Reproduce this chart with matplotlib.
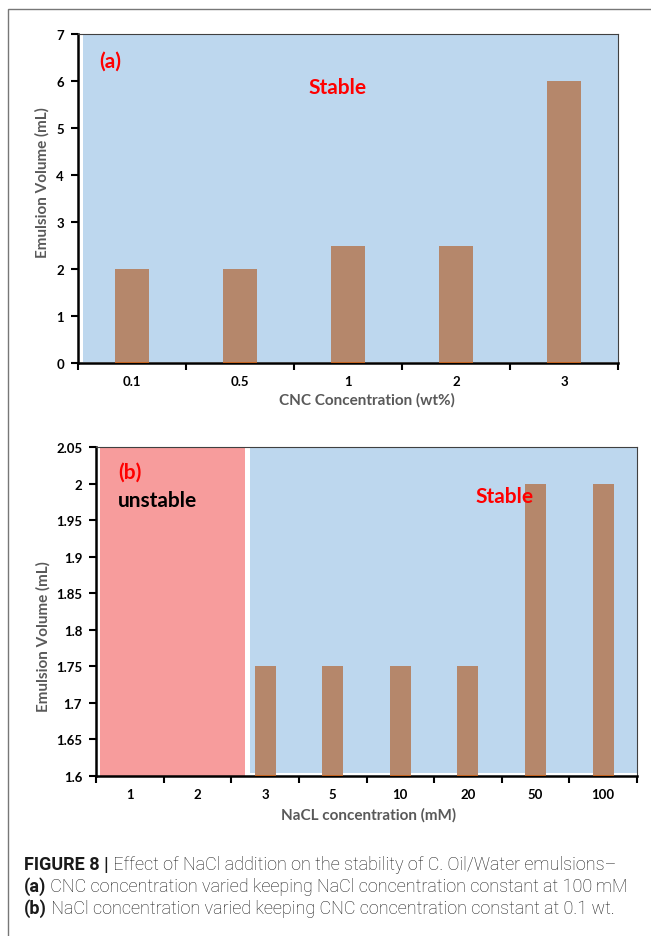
import matplotlib
matplotlib.use("Agg")
import matplotlib.pyplot as plt
from matplotlib.patches import Rectangle
import numpy as np

## data, panel (a)
cnc_conc = ["0.1", "0.5", "1", "2", "3"]
cnc_volume = [2, 2, 2.5, 2.5, 6]

## data, panel (b)
nacl_conc = ["1", "2", "3", "5", "10", "20", "50", "100"]
nacl_volume = [np.nan, np.nan, 1.75, 1.75, 1.75, 1.75, 2.0, 2.0]

y_ticks_a = [0, 1, 2, 3, 4, 5, 6, 7]
y_ticks_b = [1.6, 1.65, 1.7, 1.75, 1.8, 1.85, 1.9, 1.95, 2.0, 2.05]
y_ticklabels_b = ["1.6", "1.65", "1.7", "1.75", "1.8", "1.85", "1.9", "1.95", "2", "2.05"]

BAR = "#B5876B"
BLUE = "#BDD7EE"
PINK = "#F79C9C"
RED = "#FF0000"
GRAY = "#595959"
FONT = "Lato"

W, H = 651, 937
fig = plt.figure(figsize=(W / 100, H / 100), dpi=100)
plt.rcParams["font.family"] = FONT


def px_axes(x0, y0, x1, y1):
    # axes box given in pixels from top-left
    return fig.add_axes([x0 / W, 1 - y1 / H, (x1 - x0) / W, (y1 - y0) / H])


def style_axes(ax, labels, yticks, yticklabels):
    n = len(labels)
    ax.set_xlim(-0.5, n - 0.5)
    ax.set_xticks(np.arange(n + 1) - 0.5)
    ax.set_xticklabels([])
    ax.set_xticks(np.arange(n), minor=True)
    ax.set_xticklabels(labels, minor=True, fontsize=9.5, fontweight="bold")
    ax.tick_params(axis="x", which="major", direction="out", length=5, width=1.5)
    ax.tick_params(axis="x", which="minor", length=0, pad=9)
    ax.set_yticks(yticks)
    ax.set_yticklabels(yticklabels, fontsize=9.5, fontweight="bold")
    ax.tick_params(axis="y", direction="out", length=5, width=1.5, pad=5)
    for s in ["left", "bottom"]:
        ax.spines[s].set_linewidth(1.8)
        ax.spines[s].set_color("black")
    for s in ["top", "right"]:
        ax.spines[s].set_linewidth(0.8)
        ax.spines[s].set_color("#404040")
    ax.set_facecolor("white")


def draw_bars(ax, vals, width=0.31):
    x = np.arange(len(vals))
    ax.bar(x, vals, width=width, color=BAR, zorder=2)
    ok = ~np.isnan(np.array(vals, dtype=float))
    ax.hlines([ax.get_ylim()[0]] * ok.sum(), x[ok] - width / 2, x[ok] + width / 2,
              color="#E07020", lw=1.2, zorder=3)


## panel (a)
ax1 = px_axes(78, 35, 618, 364)
ax1.set_ylim(0, 7)
style_axes(ax1, cnc_conc, y_ticks_a, [str(v) for v in y_ticks_a])
ax1.axvspan(-0.45, 4.5, ymin=0.003, ymax=1, color=BLUE, zorder=0, lw=0)
draw_bars(ax1, cnc_volume)
ax1.text(0.06, 0.92, "(a)", transform=ax1.transAxes, color=RED, fontsize=15,
         fontweight="bold", ha="center", va="center")
ax1.text(0.48, 0.84, "Stable", transform=ax1.transAxes, color=RED, fontsize=15,
         fontweight="bold", ha="center", va="center")
fig.text(367 / W, 1 - 400 / H, "CNC Concentration (wt%)", color=GRAY, fontsize=11,
         fontweight="bold", ha="center", va="center")
fig.text(42 / W, 1 - 183 / H, "Emulsion Volume (mL)", color=GRAY, fontsize=11,
         fontweight="bold", ha="center", va="center", rotation=90)

## panel (b)
ax2 = px_axes(96, 448, 637, 777)
ax2.set_ylim(1.6, 2.05)
style_axes(ax2, nacl_conc, y_ticks_b, y_ticklabels_b)
ax2.axvspan(-0.44, 1.70, color=PINK, zorder=0, lw=0)
ax2.axvspan(1.78, 7.5, ymin=0.01, ymax=1, color=BLUE, zorder=0, lw=0)
draw_bars(ax2, nacl_volume)
ax2.text(0.063, 0.925, "(b)", transform=ax2.transAxes, color=RED, fontsize=15,
         fontweight="bold", ha="center", va="center")
ax2.text(0.113, 0.838, "unstable", transform=ax2.transAxes, color="black", fontsize=15,
         fontweight="bold", ha="center", va="center")
ax2.text(0.755, 0.850, "Stable", transform=ax2.transAxes, color=RED, fontsize=15,
         fontweight="bold", ha="center", va="center", zorder=5)
fig.text(369 / W, 1 - 815 / H, "NaCL concentration (mM)", color=GRAY, fontsize=11,
         fontweight="bold", ha="center", va="center")
fig.text(43 / W, 1 - 637 / H, "Emulsion Volume (mL)", color=GRAY, fontsize=11,
         fontweight="bold", ha="center", va="center", rotation=90)

## outer frame
fig.add_artist(Rectangle((8 / W, -0.1), 1.2, 1.1 - 10 / H, transform=fig.transFigure,
                         fill=False, ec="#777777", lw=1.0))

## caption
ov = fig.add_axes([0, 0, 1, 1])
ov.set_axis_off()
ov.set_xlim(0, W)
ov.set_ylim(H, 0)
cap_font = ["Roboto", "DejaVu Sans"]
cap = [("FIGURE 8 |", " Effect of NaCl addition on the stability of C. Oil/Water emulsions\u2013", 865),
       ("(a)", " CNC concentration varied keeping NaCl concentration constant at 100\u2009mM", 887),
       ("(b)", " NaCl concentration varied keeping CNC concentration constant at 0.1 wt.", 909)]
for bold, rest, yy in cap:
    t = ov.text(24, yy, bold, fontsize=13, fontweight="bold", family=cap_font,
                va="center", ha="left", color="#1a1a1a")
    ov.annotate(rest, xy=(1, 0.5), xycoords=t, va="center", ha="left",
                fontsize=13, fontweight="light", family=cap_font, color="#1a1a1a")

fig.savefig("out.png", dpi=100)
